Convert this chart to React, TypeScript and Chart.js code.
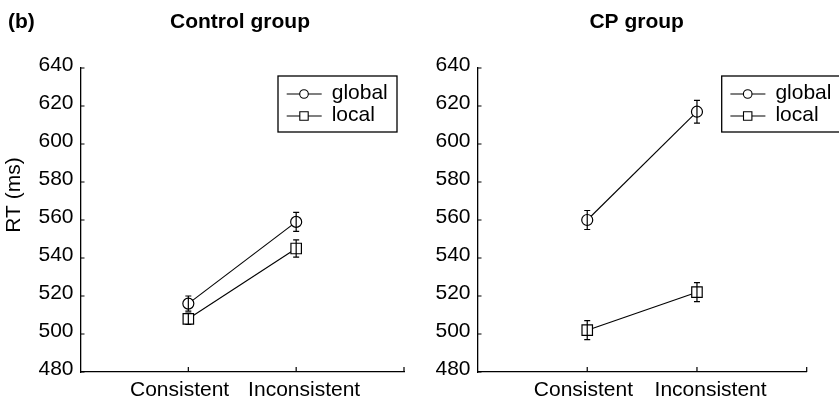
import React, { useEffect, useRef } from 'react';
import { Chart, registerables } from 'chart.js';

Chart.register(...registerables);

// ---------- data ----------
const categories = ['Consistent', 'Inconsistent'];
const yTicks = [480, 500, 520, 540, 560, 580, 600, 620, 640];
const seriesNames = ['global', 'local'];

const controlGlobal = [516, 559];
const controlGlobalErr = [4, 5];
const controlLocal = [508, 545];
const controlLocalErr = [3, 4.5];

const cpGlobal = [560, 617];
const cpGlobalErr = [5, 6];
const cpLocal = [502, 522];
const cpLocalErr = [5, 5];

const FONT = '"Liberation Sans", Arial, Helvetica, sans-serif';
const TEXT_SIZE = 21;

type PanelProps = {
  title: string;
  titleX: number;
  global: number[];
  globalErr: number[];
  local: number[];
  localErr: number[];
  left: number;
  width: number;
  axisWidth: number;
  padRight: number;
  legendLeft: number;
  labelPos: number[];
  first: boolean;
};

function Panel(p: PanelProps) {
  const ref = useRef<HTMLCanvasElement>(null);

  useEffect(() => {
    const canvas = ref.current;
    if (!canvas) return;

    const decor = {
      id: 'decor',
      afterDatasetsDraw(chart: any) {
        const ctx = chart.ctx as CanvasRenderingContext2D;
        const ys = chart.scales.y;
        const xs = chart.scales.x;
        const area = chart.chartArea;
        ctx.save();
        ctx.strokeStyle = '#000';
        // error bars
        ctx.lineWidth = 1.2;
        chart.data.datasets.forEach((ds: any, di: number) => {
          const meta = chart.getDatasetMeta(di);
          ds.data.forEach((pt: any, i: number) => {
            const el = meta.data[i];
            const e = ds.errors[i];
            const top = ys.getPixelForValue(pt.y + e);
            const bot = ys.getPixelForValue(pt.y - e);
            ctx.beginPath();
            ctx.moveTo(el.x, top);
            ctx.lineTo(el.x, bot);
            ctx.moveTo(el.x - 3, top);
            ctx.lineTo(el.x + 3, top);
            ctx.moveTo(el.x - 3, bot);
            ctx.lineTo(el.x + 3, bot);
            ctx.stroke();
          });
        });
        // inward ticks
        ctx.lineWidth = 1.2;
        ctx.beginPath();
        yTicks.forEach((v) => {
          const py = ys.getPixelForValue(v);
          ctx.moveTo(area.left, py);
          ctx.lineTo(area.left + 4, py);
        });
        [1, 2, 3].forEach((v) => {
          const px = xs.getPixelForValue(v);
          ctx.moveTo(px, area.bottom);
          ctx.lineTo(px, area.bottom - 5);
        });
        ctx.stroke();
        ctx.restore();
      },
      afterDraw(chart: any) {
        const ctx = chart.ctx as CanvasRenderingContext2D;
        ctx.save();
        // legend
        const L = p.legendLeft;
        const T = 76;
        ctx.fillStyle = '#fff';
        ctx.fillRect(L, T, 119, 56);
        ctx.strokeStyle = '#000';
        ctx.lineWidth = 1.3;
        ctx.strokeRect(L, T, 119, 56);
        chart.data.datasets.forEach((ds: any, i: number) => {
          const cy = 94 + i * 22;
          ctx.lineWidth = 1.1;
          ctx.beginPath();
          ctx.moveTo(L + 8.7, cy);
          ctx.lineTo(L + 43.7, cy);
          ctx.stroke();
          const mx = L + 26;
          ctx.fillStyle = '#fff';
          ctx.beginPath();
          if (ds.pointStyle === 'circle') {
            ctx.arc(mx, cy, 4.3, 0, Math.PI * 2);
          } else {
            ctx.rect(mx - 4.2, cy - 4.2, 8.4, 8.4);
          }
          ctx.fill();
          ctx.stroke();
          ctx.fillStyle = '#000';
          ctx.font = `${TEXT_SIZE}px ${FONT}`;
          ctx.textAlign = 'left';
          ctx.textBaseline = 'alphabetic';
          ctx.fillText(ds.label, L + 53.7, cy + 4.5);
        });
        ctx.fillStyle = '#000';
        // panel title
        ctx.font = `bold 21px ${FONT}`;
        ctx.textAlign = 'center';
        ctx.textBaseline = 'alphabetic';
        ctx.fillText(p.title, p.titleX, 28.3);
        if (p.first) {
          // panel letter
          ctx.textAlign = 'left';
          ctx.fillText('(b)', 8, 28.3);
          // y axis title
          ctx.font = `${TEXT_SIZE}px ${FONT}`;
          ctx.translate(19.7, 195);
          ctx.rotate(-Math.PI / 2);
          ctx.textAlign = 'center';
          ctx.fillText('RT (ms)', 0, 0);
        }
        ctx.restore();
      },
    };

    const mk = (vals: number[], errs: number[], name: string, style: string, r: number) => ({
      label: name,
      data: vals.map((y, i) => ({ x: i + 1, y })),
      errors: errs,
      borderColor: '#000',
      borderWidth: 1.1,
      backgroundColor: '#fff',
      pointStyle: style,
      pointRadius: r,
      pointBorderWidth: 1.2,
      pointBackgroundColor: '#fff',
      pointBorderColor: '#000',
      fill: false,
      tension: 0,
    });

    const chart = new Chart(canvas, {
      type: 'line',
      data: {
        datasets: [
          mk(p.global, p.globalErr, seriesNames[0], 'circle', 5.5),
          mk(p.local, p.localErr, seriesNames[1], 'rect', 7.4),
        ] as any,
      },
      options: {
        animation: false,
        responsive: false,
        events: [],
        layout: { padding: { left: 0, right: p.padRight, top: 68, bottom: 0 } },
        plugins: {
          legend: { display: false },
          tooltip: { enabled: false },
          title: { display: false },
        },
        scales: {
          x: {
            type: 'linear',
            min: 0,
            max: 3,
            grid: { display: false, drawTicks: false },
            border: { display: true, color: '#000', width: 1.3 },
            afterBuildTicks: (s: any) => {
              s.ticks = p.labelPos.map((v) => ({ value: v }));
            },
            ticks: {
              autoSkip: false,
              maxRotation: 0,
              padding: 6,
              color: '#000',
              font: { family: FONT, size: TEXT_SIZE },
              callback: (_v: any, i: number) => categories[i] ?? '',
            },
            afterFit: (s: any) => {
              s.height = 26;
            },
          },
          y: {
            type: 'linear',
            min: 480,
            max: 640,
            grid: { display: false, drawTicks: false },
            border: { display: true, color: '#000', width: 1.3 },
            afterBuildTicks: (s: any) => {
              s.ticks = yTicks.map((v) => ({ value: v }));
            },
            ticks: {
              padding: 7,
              labelOffset: -3,
              color: '#000',
              font: { family: FONT, size: TEXT_SIZE },
            },
            afterFit: (s: any) => {
              s.width = p.axisWidth;
            },
          },
        },
      } as any,
      plugins: [decor],
    });

    return () => chart.destroy();
  }, []);

  return (
    <canvas
      ref={ref}
      width={p.width}
      height={398}
      style={{ position: 'absolute', left: p.left, top: 0, width: p.width, height: 398 }}
    />
  );
}

export default function App() {
  return (
    <div style={{ position: 'absolute', left: 0, top: 0, width: 839, height: 398, background: '#fff', overflow: 'hidden' }}>
      <Panel
        title="Control group"
        titleX={240}
        global={controlGlobal}
        globalErr={controlGlobalErr}
        local={controlLocal}
        localErr={controlLocalErr}
        left={0}
        width={420}
        axisWidth={80.5}
        padRight={16}
        legendLeft={278}
        labelPos={[0.919, 2.074]}
        first={true}
      />
      <Panel
        title="CP group"
        titleX={216.7}
        global={cpGlobal}
        globalErr={cpGlobalErr}
        local={cpLocal}
        localErr={cpLocalErr}
        left={420}
        width={419}
        axisWidth={57.5}
        padRight={32.3}
        legendLeft={301.7}
        labelPos={[0.965, 2.124]}
        first={false}
      />
    </div>
  );
}
